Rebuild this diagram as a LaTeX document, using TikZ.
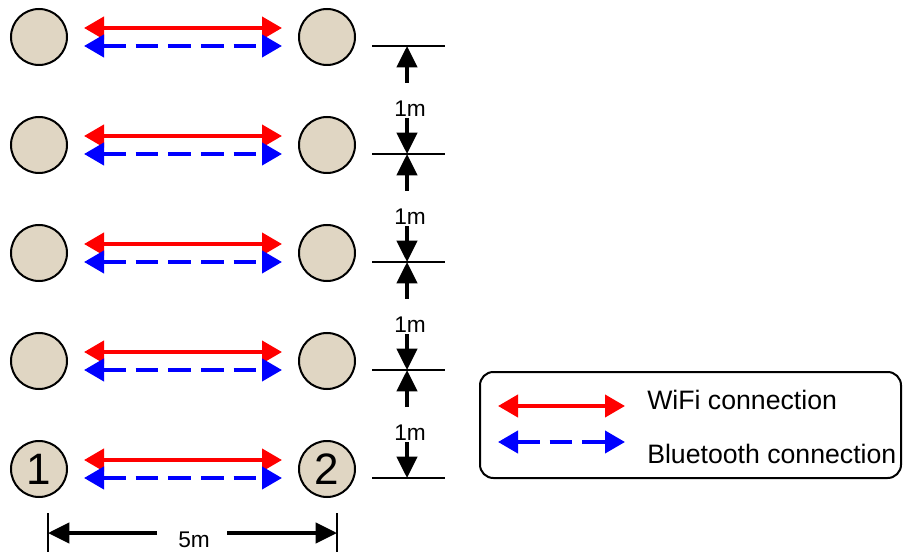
\documentclass[tikz,border=0pt]{standalone}
\usepackage{fontspec}
\setmainfont{Liberation Sans}
\usetikzlibrary{arrows.meta,calc}
\definecolor{wificolor}{rgb}{1.0,0.0,0.0}
\definecolor{btcolor}{rgb}{0.0,0.0,1.0}
\definecolor{devfill}{RGB}{224,214,195}
\tikzset{
  dev/.style={circle, draw, line width=1.5pt, fill=devfill, minimum size=42pt, inner sep=0pt, font=\fontsize{33}{33}\selectfont},
  wifi/.style={{Triangle[length=15pt,width=16.5pt]}-{Triangle[length=15pt,width=16.5pt]}, line width=3pt, draw=wificolor},
  bt/.style={{Triangle[length=15pt,width=16.5pt]}-{Triangle[length=15pt,width=16.5pt]}, line width=3pt, draw=btcolor, dash pattern=on 17pt off 7.5pt},
  link/.style={shorten <=12pt, shorten >=12pt},
  dim/.style={-{Triangle[length=16pt,width=15pt]}, line width=3pt},
  tick/.style={line width=1.5pt},
  lbl/.style={font=\fontsize{17}{17}\selectfont, inner sep=1pt},
  legbox/.style={draw, line width=1.5pt, rounded corners=10pt},
  legtxt/.style={anchor=west, font=\fontsize{20}{20}\selectfont, inner sep=0pt},
}

\begin{document}
\begin{tikzpicture}[x=0.75pt, y=-0.75pt]
\useasboundingbox (0,0) rectangle (903,552);
\node[dev] (l1) at (39,37)  {};
\node[dev] (l2) at (39,145) {};
\node[dev] (l3) at (39,253) {};
\node[dev] (l4) at (39,361) {};
\node[dev] (l5) at (39,469) {1};
\node[dev] (r1) at (327,37)  {};
\node[dev] (r2) at (327,145) {};
\node[dev] (r3) at (327,253) {};
\node[dev] (r4) at (327,361) {};
\node[dev] (r5) at (327,469) {2};
\draw[wifi,link] ([yshift=6.75pt]l1.east) -- ([yshift=6.75pt]r1.west);
\draw[bt,link] ([yshift=-6.75pt]l1.east) -- ([yshift=-6.75pt]r1.west);
\draw[wifi,link] ([yshift=6.75pt]l2.east) -- ([yshift=6.75pt]r2.west);
\draw[bt,link] ([yshift=-6.75pt]l2.east) -- ([yshift=-6.75pt]r2.west);
\draw[wifi,link] ([yshift=6.75pt]l3.east) -- ([yshift=6.75pt]r3.west);
\draw[bt,link] ([yshift=-6.75pt]l3.east) -- ([yshift=-6.75pt]r3.west);
\draw[wifi,link] ([yshift=6.75pt]l4.east) -- ([yshift=6.75pt]r4.west);
\draw[bt,link] ([yshift=-6.75pt]l4.east) -- ([yshift=-6.75pt]r4.west);
\draw[wifi,link] ([yshift=6.75pt]l5.east) -- ([yshift=6.75pt]r5.west);
\draw[bt,link] ([yshift=-6.75pt]l5.east) -- ([yshift=-6.75pt]r5.west);
\coordinate (h1) at (407,46);
\coordinate (h2) at (407,154);
\coordinate (h3) at (407,262);
\coordinate (h4) at (407,370);
\coordinate (h5) at (407,478);
\draw[tick] ($(h1)+(-35,0)$) -- ($(h1)+(38,0)$);
\draw[tick] ($(h2)+(-35,0)$) -- ($(h2)+(38,0)$);
\draw[tick] ($(h3)+(-35,0)$) -- ($(h3)+(38,0)$);
\draw[tick] ($(h4)+(-35,0)$) -- ($(h4)+(38,0)$);
\draw[tick] ($(h5)+(-35,0)$) -- ($(h5)+(38,0)$);
\draw[dim] ($(h1)+(0,37)$) -- (h1);
\draw[dim] ($(h2)+(0,37)$) -- (h2);
\draw[dim] ($(h3)+(0,37)$) -- (h3);
\draw[dim] ($(h4)+(0,37)$) -- (h4);
\draw[dim] ($(h2)+(0,-36)$) -- (h2);
\draw[dim] ($(h3)+(0,-36)$) -- (h3);
\draw[dim] ($(h4)+(0,-36)$) -- (h4);
\draw[dim] ($(h5)+(0,-36)$) -- (h5);
\node[lbl] (gap1) at (410,109) {1m};
\node[lbl] (gap2) at (410,217) {1m};
\node[lbl] (gap3) at (410,325) {1m};
\node[lbl] (gap4) at (410,433) {1m};
\coordinate (s1) at (48,533);
\coordinate (s2) at (337,533);
\draw[tick] ($(s1)+(0,-20)$) -- ($(s1)+(0,20)$);
\draw[tick] ($(s2)+(0,-20)$) -- ($(s2)+(0,20)$);
\draw[dim] ($(s1)+(109,0)$) -- (s1);
\draw[dim] ($(s2)+(-110,0)$) -- (s2);
\node[lbl] (span) at (194,540) {5m};
\draw[legbox] (480,372) rectangle (901,478);
\coordinate (wa) at (498,406);
\coordinate (wb) at (625,406);
\coordinate (ba) at (498,442);
\coordinate (bb) at (625,442);
\draw[wifi] (wa) -- (wb);
\draw[bt] (ba) -- (bb);
\node[legtxt] (wifitxt) at (647,400) {WiFi connection};
\node[legtxt] (bttxt) at (647,454) {Bluetooth connection};
\end{tikzpicture}
\end{document}
